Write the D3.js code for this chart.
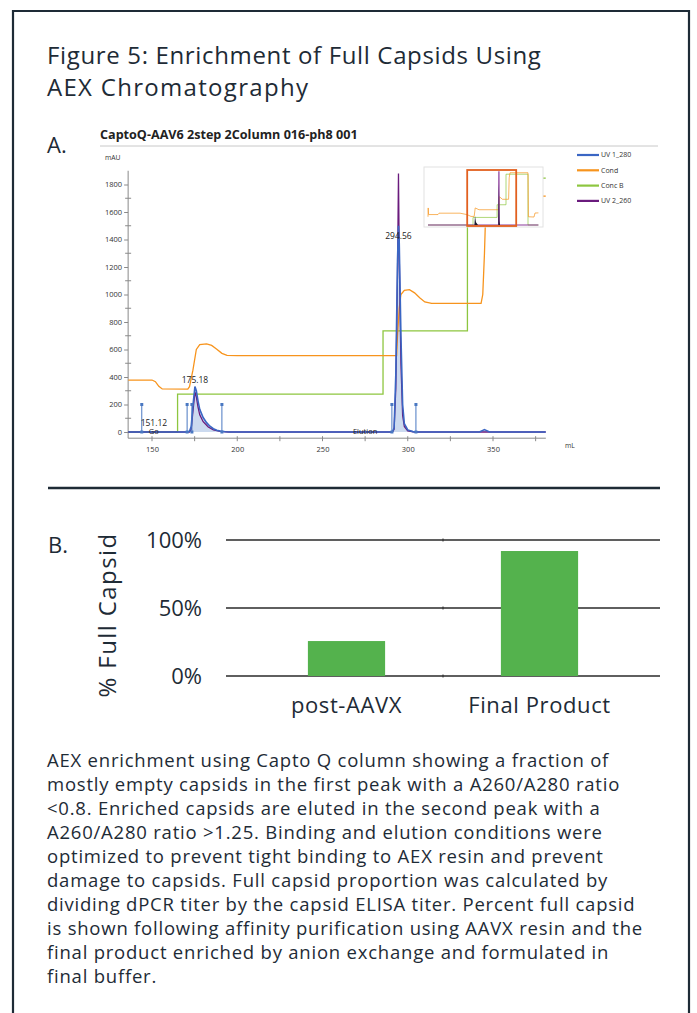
<!DOCTYPE html>
<html>
<head>
<meta charset="utf-8">
<script src="https://cdn.jsdelivr.net/npm/d3@7"></script>
<style>
  body { margin: 0; background: #fff; }
  svg { display: block; }
  .txt { font-family: "Open Sans", sans-serif; fill: #1e2b36; }
  .chrom text { font-family: "Open Sans", sans-serif; fill: #333; }
</style>
</head>
<body>
<svg id="fig" width="697" height="1013"></svg>
<script>
// ---- A. chromatogram traces, [mL, mAU] ----
const uv280 = [[136,0],[171,0],[172,6],[173,40],[174,190],[175.18,330],[176,300],[177,225],[178,165],[180,105],
  [182,68],[184,42],[186,24],[188,13],[190,7],[193,2],[196,0],[291,0],[292,30],[293,420],[294,1250],[294.56,1500],
  [295,1380],[296,700],[297,200],[298,60],[300,15],[303,3],[306,0],[342,0],[344,12],[345,18],[346,12],[348,0],[381,0]];
const uv260 = [[136,0],[172,0],[173,20],[174,150],[175.18,290],[176,255],[177,180],[178,125],[180,75],[183,36],
  [186,16],[190,5],[195,0],[291,0],[292,20],[293,320],[294,1150],[294.56,1880],[295,1300],[296,500],[297,120],
  [298,40],[300,8],[304,0],[381,0]];
const cond = [[136,378],[150,378],[152,366],[154,332],[156,313],[171,312],[172,330],[174,450],[176,600],[178,636],
  [182,641],[185,630],[188,602],[191,572],[194,558],[200,555],[293.5,555],[294,700],[295,900],[296,1000],[298,1030],
  [301,1035],[304,1012],[307,976],[310,946],[314,935],[343,935],[344,1000],[345,1300],[346,1716],[381,1716]];
const concB = [[136,0],[165,0],[165,276],[285.5,276],[285.5,736],[335,736],[335,1847],[381,1847]];
const fractionMarks = [144, 170.6, 173.4, 191, 290.7, 304.8];
const fractionHeight = 200;
const peakLabels = [{ml: 151.12, mau: 46, text: "151.12"}, {ml: 175.18, mau: 356, text: "175.18"},
  {ml: 294.56, mau: 1404, text: "294.56"}];
const logLabels = [{ml: 151, text: "Go"}, {ml: 275, text: "Elution"}];
const chromXTicks = [150, 200, 250, 300, 350];
const chromYTicks = [0, 200, 400, 600, 800, 1000, 1200, 1400, 1600, 1800];
const seriesNames = ["UV 1_280", "Cond", "Conc B", "UV 2_260"];

// overview inset (whole run)
const ovCond = [[-60,300],[-59,620],[-57,380],[-10,380],[-5,430],[100,430],[135,378],[155,312],[171,312],[176,620],
  [195,555],[293,555],[297,1030],[312,935],[343,935],[346,1716],[350,1900],[440,1900],[442,300],[470,290],[475,436],[492,440]];
const ovConcB = [[-60,0],[165,0],[165,276],[285.5,276],[285.5,736],[330,736],[330,1847],[440,1847],[440,0],[492,0]];
const ovUv = [[-60,0],[172,0],[175,330],[180,100],[190,0],[292,0],[294.56,1500],[297,150],[300,0],[492,0]];
const ovUv260 = [[-60,0],[293,0],[294.56,1950],[296,0],[492,0]];

// ---- B. bar chart ----
const samples = ["post-AAVX", "Final Product"];
const fullCapsidPct = [25.7, 91.9];
const pctTicks = [0, 50, 100];

const captionLines = [
  "AEX enrichment using Capto Q column showing a fraction of",
  "mostly empty capsids in the first peak with a A260/A280 ratio",
  "<0.8. Enriched capsids are eluted in the second peak with a",
  "A260/A280 ratio >1.25. Binding and elution conditions were",
  "optimized to prevent tight binding to AEX resin and prevent",
  "damage to capsids. Full capsid proportion was calculated by",
  "dividing dPCR titer by the capsid ELISA titer. Percent full capsid",
  "is shown following affinity purification using AAVX resin and the",
  "final product enriched by anion exchange and formulated in",
  "final buffer."
];

const svg = d3.select("#fig");
const ink = "#1e2b36";

// frame
svg.append("path").attr("d", "M13,1013V11H689V1013")
  .attr("fill", "none").attr("stroke", ink).attr("stroke-width", 2.2);

svg.append("text").attr("class", "txt").attr("x", 47).attr("y", 64).attr("font-size", 24)
  .attr("letter-spacing", 0.65).text("Figure 5: Enrichment of Full Capsids Using");
svg.append("text").attr("class", "txt").attr("x", 47).attr("y", 96).attr("font-size", 24)
  .attr("letter-spacing", 1.3).text("AEX Chromatography");
svg.append("text").attr("class", "txt").attr("x", 47).attr("y", 153).attr("font-size", 22).text("A.");

// ---------- chromatogram ----------
const color = d3.scaleOrdinal().domain(seriesNames).range(["#3a66c4", "#f7941d", "#8dc63f", "#6a1b7d"]);
const cx = d3.scaleLinear().domain([150, 350]).range([152, 493]);
const cy = d3.scaleLinear().domain([0, 1800]).range([432, 184.5]);
const xLo = 136, xHi = 381, yLo = -45, yHi = 1900;

const chrom = svg.append("g").attr("class", "chrom");
chrom.append("text").attr("x", 100).attr("y", 139).attr("font-size", 12.6).attr("font-weight", 700)
  .style("fill", "#222").text("CaptoQ-AAV6 2step 2Column 016-ph8 001");
chrom.append("line").attr("x1", 100).attr("x2", 658).attr("y1", 146).attr("y2", 146)
  .attr("stroke", "#c8c8c8").attr("stroke-width", 1);
chrom.append("text").attr("x", 105).attr("y", 160).attr("font-size", 6.8).text("mAU");
chrom.append("text").attr("x", 565).attr("y", 448).attr("font-size", 6.8).text("mL");

const axisCol = "#8a8a8a";
const x0 = cx(xLo), y0 = cy(yLo);
// y axis
const yAxis = chrom.append("g").attr("transform", `translate(${x0},0)`)
  .call(d3.axisLeft(cy).tickValues(chromYTicks).tickFormat(d3.format("d")).tickSize(4).tickPadding(2));
yAxis.select(".domain").remove();
yAxis.selectAll("line").attr("stroke", axisCol);
yAxis.selectAll("text").attr("font-size", 7.5).attr("font-family", "Open Sans").style("fill", "#333");
chrom.append("line").attr("x1", x0).attr("x2", x0).attr("y1", cy(yHi)).attr("y2", y0).attr("stroke", axisCol);
chrom.selectAll(".ymin").data(d3.range(100, 1900, 200)).join("line").attr("class", "ymin")
  .attr("x1", x0 - 3).attr("x2", x0 + 3).attr("y1", d => cy(d)).attr("y2", d => cy(d)).attr("stroke", axisCol);

// x axis
const xAxis = chrom.append("g").attr("transform", `translate(0,${y0})`)
  .call(d3.axisBottom(cx).tickValues(chromXTicks).tickSize(0).tickPadding(8));
xAxis.select(".domain").remove();
xAxis.selectAll("text").attr("font-size", 7.5).attr("font-family", "Open Sans").style("fill", "#333");
chrom.append("line").attr("x1", x0).attr("x2", cx(xHi)).attr("y1", y0).attr("y2", y0).attr("stroke", axisCol);
chrom.selectAll(".xmin").data(d3.range(150, 381, 25)).join("line").attr("class", "xmin")
  .attr("x1", d => cx(d)).attr("x2", d => cx(d)).attr("y1", y0 - 2).attr("y2", y0 + 3).attr("stroke", axisCol);

// traces
svg.append("clipPath").attr("id", "plotClip").append("rect")
  .attr("x", x0).attr("y", cy(yHi)).attr("width", cx(xHi) - x0).attr("height", y0 - cy(yHi));
const plot = chrom.append("g").attr("clip-path", "url(#plotClip)");
const line = d3.line().x(d => cx(d[0])).y(d => cy(d[1]));
const area = d3.area().x(d => cx(d[0])).y0(cy(0)).y1(d => cy(d[1]));

plot.append("path").datum(uv280).attr("d", area).attr("fill", "#c3d4ec").attr("opacity", 0.85);
plot.append("path").datum(concB).attr("d", line).attr("fill", "none").attr("stroke", color("Conc B")).attr("stroke-width", 1.3);
plot.append("path").datum(cond).attr("d", line).attr("fill", "none").attr("stroke", color("Cond")).attr("stroke-width", 1.3);
plot.append("path").datum(uv260).attr("d", line).attr("fill", "none").attr("stroke", color("UV 2_260")).attr("stroke-width", 1.3);
plot.append("path").datum(uv280).attr("d", line).attr("fill", "none").attr("stroke", color("UV 1_280")).attr("stroke-width", 1.6);

// fraction marks
const fracCol = "#4a78c2";
plot.selectAll(".frac").data(fractionMarks).join("line").attr("class", "frac")
  .attr("x1", d => cx(d)).attr("x2", d => cx(d)).attr("y1", cy(0)).attr("y2", cy(fractionHeight))
  .attr("stroke", fracCol).attr("stroke-width", 1);
plot.selectAll(".fracTop").data(fractionMarks.flatMap(d => [[d, fractionHeight], [d, 0]])).join("rect")
  .attr("class", "fracTop").attr("x", d => cx(d[0]) - 1.5).attr("y", d => cy(d[1]) - 1.5)
  .attr("width", 3).attr("height", 3).attr("fill", fracCol);

// labels
chrom.selectAll(".peak").data(peakLabels).join("text").attr("class", "peak")
  .attr("x", d => cx(d.ml)).attr("y", d => cy(d.mau)).attr("text-anchor", "middle")
  .attr("font-size", 8.5).style("fill", "#222").text(d => d.text);
chrom.selectAll(".log").data(logLabels).join("text").attr("class", "log")
  .attr("x", d => cx(d.ml)).attr("y", cy(-16)).attr("text-anchor", "middle")
  .attr("font-size", 7.5).style("fill", "#222").text(d => d.text);

// overview inset
const ix = d3.scaleLinear().domain([-60, 500]).range([428, 540]);
const iy = d3.scaleLinear().domain([0, 2000]).range([225, 170]);
const inset = chrom.append("g");
inset.append("rect").attr("x", 424).attr("y", 167).attr("width", 119).attr("height", 60)
  .attr("fill", "#fff").attr("stroke", "#e2e2e2");
const iline = d3.line().x(d => ix(d[0])).y(d => iy(d[1]));
const iarea = d3.area().x(d => ix(d[0])).y0(iy(0)).y1(d => iy(d[1]));
inset.append("path").datum(ovConcB).attr("d", iline).attr("fill", "none").attr("stroke", color("Conc B")).attr("opacity", 0.7);
inset.append("path").datum(ovCond).attr("d", iline).attr("fill", "none").attr("stroke", color("Cond")).attr("opacity", 0.7);
inset.append("path").datum(ovUv260).attr("d", iline).attr("fill", "none").attr("stroke", "#8a3a9a").attr("stroke-width", 1.2);
inset.append("path").datum(ovUv).attr("d", iarea).attr("fill", "#1c1c30");
inset.append("rect").attr("x", ix(xLo)).attr("y", 170).attr("width", ix(xHi) - ix(xLo)).attr("height", 56)
  .attr("fill", "none").attr("stroke", "#e2601f").attr("stroke-width", 1.8);

// legend
const legend = chrom.selectAll(".leg").data(seriesNames).join("g").attr("class", "leg")
  .attr("transform", (d, i) => `translate(577,${155 + i * 15.3})`);
legend.append("line").attr("x2", 22).attr("stroke", d => color(d)).attr("stroke-width", 2.2);
legend.append("text").attr("x", 24).attr("y", 2.4).attr("font-size", 7).text(d => d);

// divider
svg.append("line").attr("x1", 48).attr("x2", 660).attr("y1", 488).attr("y2", 488)
  .attr("stroke", ink).attr("stroke-width", 2.5);

// ---------- B. bar chart ----------
svg.append("text").attr("class", "txt").attr("x", 48).attr("y", 553).attr("font-size", 22).text("B.");
const bx = d3.scaleBand().domain(samples).range([250, 636]).paddingInner(0.6).paddingOuter(0.3);
const by = d3.scaleLinear().domain([0, 100]).range([676, 540]);

svg.append("text").attr("class", "txt").attr("font-size", 24).attr("letter-spacing", 1.4)
  .attr("transform", "translate(116,615) rotate(-90)").attr("text-anchor", "middle").text("% Full Capsid");

svg.selectAll(".grid").data(pctTicks).join("line").attr("class", "grid")
  .attr("x1", 226).attr("x2", 660).attr("y1", d => by(d)).attr("y2", d => by(d))
  .attr("stroke", "#2a2a2a").attr("stroke-width", 1.4);
svg.selectAll(".sep").data(pctTicks).join("line").attr("class", "sep")
  .attr("x1", bx(samples[1]) - bx.step() * 0.3).attr("x2", bx(samples[1]) - bx.step() * 0.3)
  .attr("y1", d => by(d) - 1.5).attr("y2", d => by(d) + 1.5).attr("stroke", "#2a2a2a");
svg.selectAll(".plab").data(pctTicks).join("text").attr("class", "txt plab")
  .attr("x", 202).attr("y", d => by(d) + 8).attr("text-anchor", "end").attr("font-size", 22)
  .text(d => d + "%");

svg.selectAll(".bar").data(samples).join("rect").attr("class", "bar")
  .attr("x", d => bx(d)).attr("width", bx.bandwidth())
  .attr("y", (d, i) => by(fullCapsidPct[i])).attr("height", (d, i) => by(0) - by(fullCapsidPct[i]))
  .attr("fill", "#54b24d");
svg.selectAll(".clab").data(samples).join("text").attr("class", "txt clab")
  .attr("x", d => bx(d) + bx.bandwidth() / 2).attr("y", 713).attr("text-anchor", "middle")
  .attr("font-size", 22).attr("letter-spacing", 0.6).text(d => d);

// caption
svg.selectAll(".cap").data(captionLines).join("text").attr("class", "txt cap")
  .attr("x", 47).attr("y", (d, i) => 767 + i * 24).attr("font-size", 18.5).attr("letter-spacing", 0.78)
  .text(d => d);
</script>
</body>
</html>
